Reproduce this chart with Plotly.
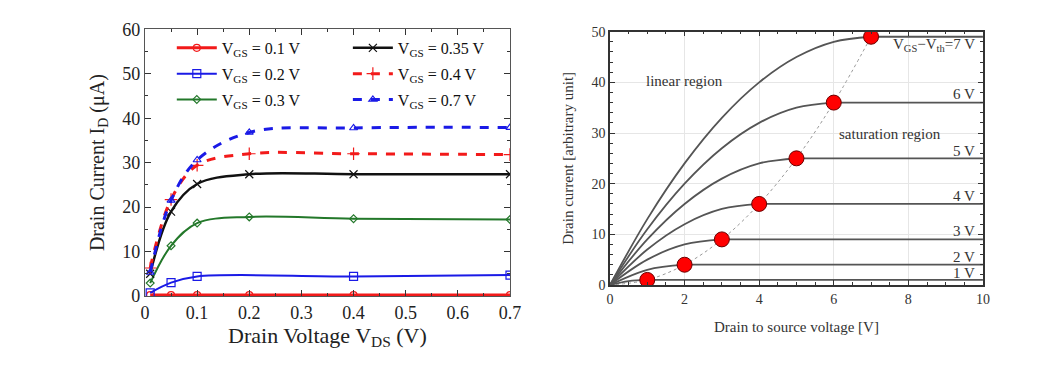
import plotly.graph_objects as go

# ---------------- Left chart data ----------------
vds = [0.01, 0.05, 0.1, 0.2, 0.4, 0.7]
vds_b = [0.01, 0.05, 0.1, 0.4, 0.7]
id_01 = [0.2, 0.2, 0.2, 0.2, 0.2, 0.2]
id_02 = [0.7, 3.0, 4.4, 4.4, 4.7]
id_03 = [2.9, 11.3, 16.4, 17.8, 17.4, 17.2]
id_035 = [5.0, 19.0, 25.2, 27.4, 27.4, 27.4]
id_04 = [6.3, 21.7, 29.4, 32.0, 32.0, 31.8]
id_07 = [5.3, 21.5, 30.6, 36.8, 37.8, 37.9]
left_xticks = [0, 0.1, 0.2, 0.3, 0.4, 0.5, 0.6, 0.7]
left_yticks = [0, 10, 20, 30, 40, 50, 60]

# ---------------- Right chart data ----------------
vov_levels = [7, 6, 5, 4, 3, 2, 1]
lin_v = {
    7: [0, 1, 2, 3, 4, 5, 6, 7],
    6: [0, 1, 2, 3, 4, 5, 6],
    5: [0, 1, 2, 3, 4, 5],
    4: [0, 1, 2, 3, 4],
    3: [0, 1, 2, 3],
    2: [0, 1, 2],
    1: [0, 0.5, 1],
}
lin_i = {
    7: [0, 13, 24, 33, 40, 45, 48, 49],
    6: [0, 11, 20, 27, 32, 35, 36],
    5: [0, 9, 16, 21, 24, 25],
    4: [0, 7, 12, 15, 16],
    3: [0, 5, 8, 9],
    2: [0, 3, 4],
    1: [0, 0.75, 1],
}
sat_v = [1, 2, 3, 4, 5, 6, 7]
sat_i = [1, 4, 9, 16, 25, 36, 49]
para_v = [0, 1, 2, 3, 4, 5, 6, 7]
para_i = [0, 1, 4, 9, 16, 25, 36, 49]
v_end = 10
curve_labels = ["V<sub>GS</sub>−V<sub>th</sub>=7 V", "6 V", "5 V", "4 V", "3 V", "2 V", "1 V"]
label_y = [47.4, 37.6, 26.4, 17.5, 10.6, 5.6, 2.4]

SERIF = "Liberation Serif"
RED = "#f21a1a"
BLUE = "#1a1ae6"
GREEN = "#23782a"
BLACK = "#111111"

fig = go.Figure()

left_series = [
    (vds, id_01, "V<sub>GS</sub> = 0.1 V", RED, "solid", 3, "circle-open", 7, "legend"),
    (vds_b, id_02, "V<sub>GS</sub> = 0.2 V", BLUE, "solid", 2, "square-open", 8, "legend"),
    (vds, id_03, "V<sub>GS</sub> = 0.3 V", GREEN, "solid", 2, "diamond-open", 6, "legend"),
    (vds, id_035, "V<sub>GS</sub> = 0.35 V", BLACK, "solid", 2.5, "x-thin-open", 8, "legend2"),
    (vds, id_04, "V<sub>GS</sub> = 0.4 V", RED, "dash", 3, "cross-thin-open", 9, "legend2"),
    (vds, id_07, "V<sub>GS</sub> = 0.7 V", BLUE, "dash", 3, "triangle-up-open", 7, "legend2"),
]
for i, (x, y, name, col, dash, w, sym, ms, lg) in enumerate(left_series):
    fig.add_trace(go.Scatter(
        x=x, y=y, name=name, mode="lines+markers", legendgroup=f"g{i}",
        line=dict(color=col, width=w, dash=dash, shape="spline", smoothing=1.0),
        marker=dict(symbol=sym, size=ms, color=col, line=dict(color=col, width=1.2)),
        xaxis="x", yaxis="y", legend=lg,
    ))

# Right chart
fig.add_trace(go.Scatter(
    x=para_v, y=para_i, mode="lines", line=dict(color="#999999", width=1, dash="dot", shape="spline"),
    xaxis="x2", yaxis="y2", showlegend=False, hoverinfo="skip"))
for v in vov_levels:
    fig.add_trace(go.Scatter(
        x=lin_v[v], y=lin_i[v], mode="lines",
        line=dict(color="#555555", width=1.8, shape="spline", smoothing=1.0),
        xaxis="x2", yaxis="y2", showlegend=False))
    fig.add_trace(go.Scatter(
        x=[lin_v[v][-1], v_end], y=[lin_i[v][-1], lin_i[v][-1]], mode="lines",
        line=dict(color="#555555", width=1.8),
        xaxis="x2", yaxis="y2", showlegend=False))
fig.add_trace(go.Scatter(
    x=sat_v, y=sat_i, mode="markers",
    marker=dict(color="#ff0000", size=15, line=dict(color="#6a0000", width=1)),
    xaxis="x2", yaxis="y2", showlegend=False))

for lbl, yv in zip(curve_labels, label_y):
    fig.add_annotation(x=9.85, y=yv, xref="x2", yref="y2", text=lbl, showarrow=False,
                       xanchor="right", yanchor="middle",
                       font=dict(family=SERIF, size=15, color="#333333"))
fig.add_annotation(x=2.0, y=40.2, xref="x2", yref="y2", text="linear region", showarrow=False,
                   font=dict(family=SERIF, size=15, color="#333333"))
fig.add_annotation(x=7.5, y=29.8, xref="x2", yref="y2", text="saturation region", showarrow=False,
                   font=dict(family=SERIF, size=15, color="#333333"))

fig.update_layout(
    width=1048, height=370,
    margin=dict(l=0, r=0, t=0, b=0, autoexpand=False),
    paper_bgcolor="white", plot_bgcolor="white",
    font=dict(family=SERIF, color="#111111"),
    xaxis=dict(domain=[0.1307, 0.479], range=[0, 0.7], tickvals=left_xticks, anchor="y",
               automargin=False,
               ticks="inside", ticklen=6, tickwidth=1, tickcolor="#333",
               showline=True, linecolor="#555", linewidth=1.2, mirror="ticks",
               showgrid=False, zeroline=False,
               minor=dict(ticks="inside", ticklen=3, dtick=0.05, tickcolor="#333"),
               tickfont=dict(family=SERIF, size=18, color="#222"),
               title=dict(text="Drain Voltage V<sub>DS</sub> (V)", standoff=2,
                          font=dict(family=SERIF, size=22, color="#222"))),
    yaxis=dict(domain=[0.2216, 0.9424], range=[0, 60], tickvals=left_yticks, anchor="x",
               automargin=False,
               ticks="inside", ticklen=6, tickwidth=1, tickcolor="#333",
               showline=True, linecolor="#555", linewidth=1.2, mirror="ticks",
               showgrid=False, zeroline=False,
               minor=dict(ticks="inside", ticklen=3, dtick=5, tickcolor="#333"),
               tickfont=dict(family=SERIF, size=18, color="#222"),
               title=dict(text="Drain Current I<sub>D</sub> (μA)", standoff=12,
                          font=dict(family=SERIF, size=20, color="#222"))),
    xaxis2=dict(domain=[0.5744, 0.9303], range=[0, 10], dtick=2, anchor="y2",
                automargin=False,
                ticks="inside", ticklen=5, tickcolor="#333",
                showline=True, linecolor="#333", linewidth=1.5, mirror="ticks",
                showgrid=True, gridcolor="#e6e6e6", zeroline=False,
                minor=dict(ticks="inside", ticklen=3, dtick=0.5, tickcolor="#333"),
                tickfont=dict(family=SERIF, size=14, color="#333"),
                title=dict(text="Drain to source voltage [V]", standoff=16,
                           font=dict(family=SERIF, size=15, color="#333"))),
    yaxis2=dict(domain=[0.2514, 0.936], range=[0, 50], dtick=10, anchor="x2",
                automargin=False,
                ticks="inside", ticklen=5, tickcolor="#333",
                showline=True, linecolor="#333", linewidth=1.5, mirror="ticks",
                showgrid=True, gridcolor="#e6e6e6", zeroline=False,
                minor=dict(ticks="inside", ticklen=3, dtick=2, tickcolor="#333"),
                tickfont=dict(family=SERIF, size=14, color="#333"),
                title=dict(text="Drain current [arbitrary unit]", standoff=14,
                           font=dict(family=SERIF, size=15, color="#333"))),
    legend=dict(x=0.1563, y=0.938, xanchor="left", yanchor="top", bgcolor="rgba(0,0,0,0)",
                font=dict(family=SERIF, size=16), tracegroupgap=2, itemwidth=40),
    legend2=dict(x=0.3243, y=0.938, xanchor="left", yanchor="top", bgcolor="rgba(0,0,0,0)",
                 font=dict(family=SERIF, size=16), tracegroupgap=2, itemwidth=40),
)

fig.write_html("out.html")
